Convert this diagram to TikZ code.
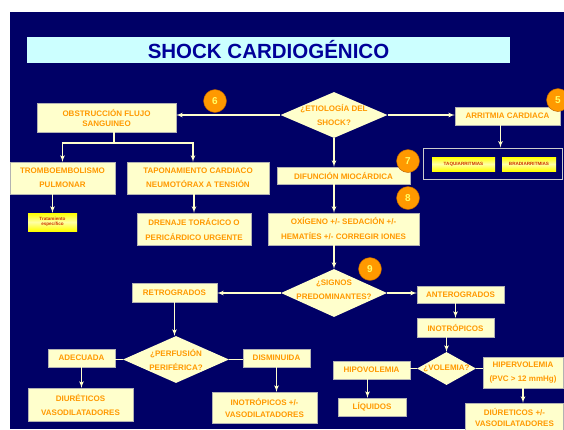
\documentclass[tikz,border=0pt]{standalone}
\usepackage{fontspec}
\setmainfont{Liberation Sans}
\usetikzlibrary{arrows}
\usetikzlibrary{shapes}
\usetikzlibrary{positioning}

\definecolor{navy}{HTML}{000066}
\definecolor{skyband}{HTML}{CCFFFF}
\definecolor{titleblue}{HTML}{000099}
\definecolor{cream}{HTML}{FFFFCC}
\definecolor{amber}{HTML}{FF9900}
\definecolor{brick}{HTML}{CC3300}
\definecolor{lemon}{HTML}{FFFF66}

\begin{document}
\begin{tikzpicture}[x=1pt, y=-1pt, >=latex',
                    box/.style = {rectangle, draw=gray!60, fill=cream, text=amber, inner sep=0pt,
                                  align=center, font=\bfseries\fontsize{8}{14}\selectfont},
                    box size/.style 2 args = {minimum width=#1pt, minimum height=#2pt},
                    question/.style = {diamond, fill=cream, inner sep=0pt},
                    qtext/.style = {text=amber, align=center, inner sep=0pt,
                                    font=\bfseries\fontsize{8}{14}\selectfont},
                    tag/.style = {rectangle, top color=yellow, bottom color=yellow,
                                  middle color=white!65!yellow, text=brick, inner sep=0pt,
                                  align=center, font=\bfseries\fontsize{4.6}{5.5}\selectfont},
                    badge/.style = {circle, fill=amber, draw=orange!70!black, minimum size=23pt,
                                    inner sep=0pt, text=lemon, font=\bfseries\fontsize{10}{10}\selectfont},
                    link/.style = {draw=cream, line width=1.2pt},
                    flow/.style = {link, ->}]
  \useasboundingbox (0,0) rectangle (564,429);
  \fill[white] (0,0) rectangle (564,429);
  \fill[navy] (10,12) rectangle (564,429);

  % title
  \node [fill=skyband, box size={483}{26}, text=titleblue,
         font=\bfseries\fontsize{20.5}{20.5}\selectfont] (title) at (268.5,50) {SHOCK CARDIOGÉNICO};

  % etiology
  \node [question, box size={107}{46},
         label={[qtext]center:{¿ETIOLOGÍA DEL\\SHOCK?}}] (etio) at (334,115) {};
  \node [box, box size={139}{29}, font=\bfseries\fontsize{8}{10}\selectfont] (obst) at (106.5,117.5)
        {OBSTRUCCIÓN FLUJO\\SANGUINEO};
  \node [box, box size={105}{18}] (arrit) at (507.5,116) {ARRITMIA CARDIACA};
  \node [box, box size={133}{17}] (difu) at (343.5,175.5) {DIFUNCIÓN MIOCÁRDICA};
  \node [box, box size={151}{32}, font=\bfseries\fontsize{8}{15}\selectfont] (oxig) at (343.5,229)
        {OXÍGENO +/- SEDACIÓN +/-\\HEMATÍES +/- CORREGIR IONES};

  % arrhythmias
  \node [draw=gray!40, line width=1pt, box size={139}{31}] (arrgrp) at (492.5,163.5) {};
  \node [tag, box size={63}{14}] (taqui) at (463.5,164) {TAQUIARRITMIAS};
  \node [tag, box size={54}{14}] (bradi) at (529,164) {BRADIARRITMIAS};

  % obstruction
  \node [box, box size={105}{32}] (tromb) at (62.5,178) {TROMBOEMBOLISMO\\PULMONAR};
  \node [box, box size={142}{32}] (tapon) at (198,178) {TAPONAMIENTO CARDIACO\\NEUMOTÓRAX A TENSIÓN};
  \node [tag, box size={49}{18}] (trat) at (52.5,222) {Tratamiento\\específico};
  \node [box, box size={114}{32}, font=\bfseries\fontsize{8}{15}\selectfont] (dren) at (194,229)
        {DRENAJE TORÁCICO O\\PERICÁRDICO URGENTE};
  \coordinate (fork) at (114,143);

  % predominant signs
  \node [question, box size={106}{48},
         label={[qtext, yshift=3pt]center:{¿SIGNOS\\PREDOMINANTES?}}] (signos) at (334,293) {};
  \node [box, box size={85}{19}] (retro) at (174.5,292.5) {RETROGRADOS};
  \node [box, box size={87}{17}] (antero) at (460.5,294.5) {ANTEROGRADOS};
  \node [box, box size={77}{19}] (inot) at (455.5,327.5) {INOTRÓPICOS};

  \node [question, box size={106}{47},
         label={[qtext]center:{¿PERFUSIÓN\\PERIFÉRICA?}}] (perf) at (176,359.5) {};
  \node [box, box size={67}{18}] (adec) at (81.5,358) {ADECUADA};
  \node [box, box size={67}{18}] (dism) at (276.5,358) {DISMINUIDA};
  \node [box, box size={105}{33}] (diurl) at (80.5,404.5) {DIURÉTICOS\\VASODILATADORES};
  \node [box, box size={105}{31}, font=\bfseries\fontsize{8}{12}\selectfont] (inov) at (264.5,407.5)
        {INOTRÓPICOS +/-\\VASODILATADORES};

  \node [question, box size={59}{33}, label={[qtext]center:{¿VOLEMIA?}}] (volem) at (446.5,368.5) {};
  \node [box, box size={77}{18}] (hipo) at (371.5,370) {HIPOVOLEMIA};
  \node [box, box size={68}{18}] (liq) at (372,407) {LÍQUIDOS};
  \node [box, box size={80}{31}] (hiper) at (523,372.5) {HIPERVOLEMIA\\(PVC > 12 mmHg)};
  \node [box, box size={98}{28}, font=\bfseries\fontsize{8}{11}\selectfont] (diurr) at (514.5,417)
        {DIÚRETICOS +/-\\VASODILATADORES};

  % connectors
  \draw [flow] (etio.west) -- (etio.west -| obst.east);
  \draw [flow] (etio.east) -- (etio.east -| arrit.west);
  \draw [flow] (etio.south) -- (etio.south |- difu.north);
  \draw [flow] (etio.south |- difu.south) -- (etio.south |- oxig.north);
  \draw [flow] (signos.north |- oxig.south) -- (signos.north);
  \draw [flow] ([xshift=-7pt]arrit.south) -- ([xshift=-7pt]arrit.south |- arrgrp.north);
  \draw [link] (fork |- obst.south) -- (fork);
  \draw [flow] (fork) -| (tromb.north);
  \draw [flow] (fork) -| ([xshift=-5pt]tapon.north);
  \draw [flow] (trat.north |- tromb.south) -- (trat.north);
  \draw [flow] (dren.north |- tapon.south) -- (dren.north);
  \draw [flow] (signos.west) -- (signos.west -| retro.east);
  \draw [flow] (signos.east) -- (signos.east -| antero.west);
  \draw [flow] (retro.south) -- (retro.south |- perf.north);
  \draw [link] (perf.west) -- (perf.west -| adec.east);
  \draw [link] (perf.east) -- (perf.east -| dism.west);
  \draw [flow] (adec.south) -- (adec.south |- diurl.north);
  \draw [flow] (dism.south) -- (dism.south |- inov.north);
  \draw [flow] (inot.north |- antero.south) -- (inot.north);
  \draw [flow] (volem.north |- inot.south) -- (volem.north);
  \draw [link] (volem.west) -- (volem.west -| hipo.east);
  \draw [link] (volem.east) -- (volem.east -| hiper.west);
  \draw [flow] ([xshift=-4pt]hipo.south) -- ([xshift=-4pt]hipo.south |- liq.north);
  \draw [flow] (hiper.south) -- (hiper.south |- diurr.north);

  % step numbers
  \node [badge] (n6) at (215,101) {6};
  \node [badge] (n5) at (558,100) {5};
  \node [badge] (n7) at (408,161) {7};
  \node [badge] (n8) at (408,198) {8};
  \node [badge] (n9) at (370,269) {9};
\end{tikzpicture}
\end{document}
